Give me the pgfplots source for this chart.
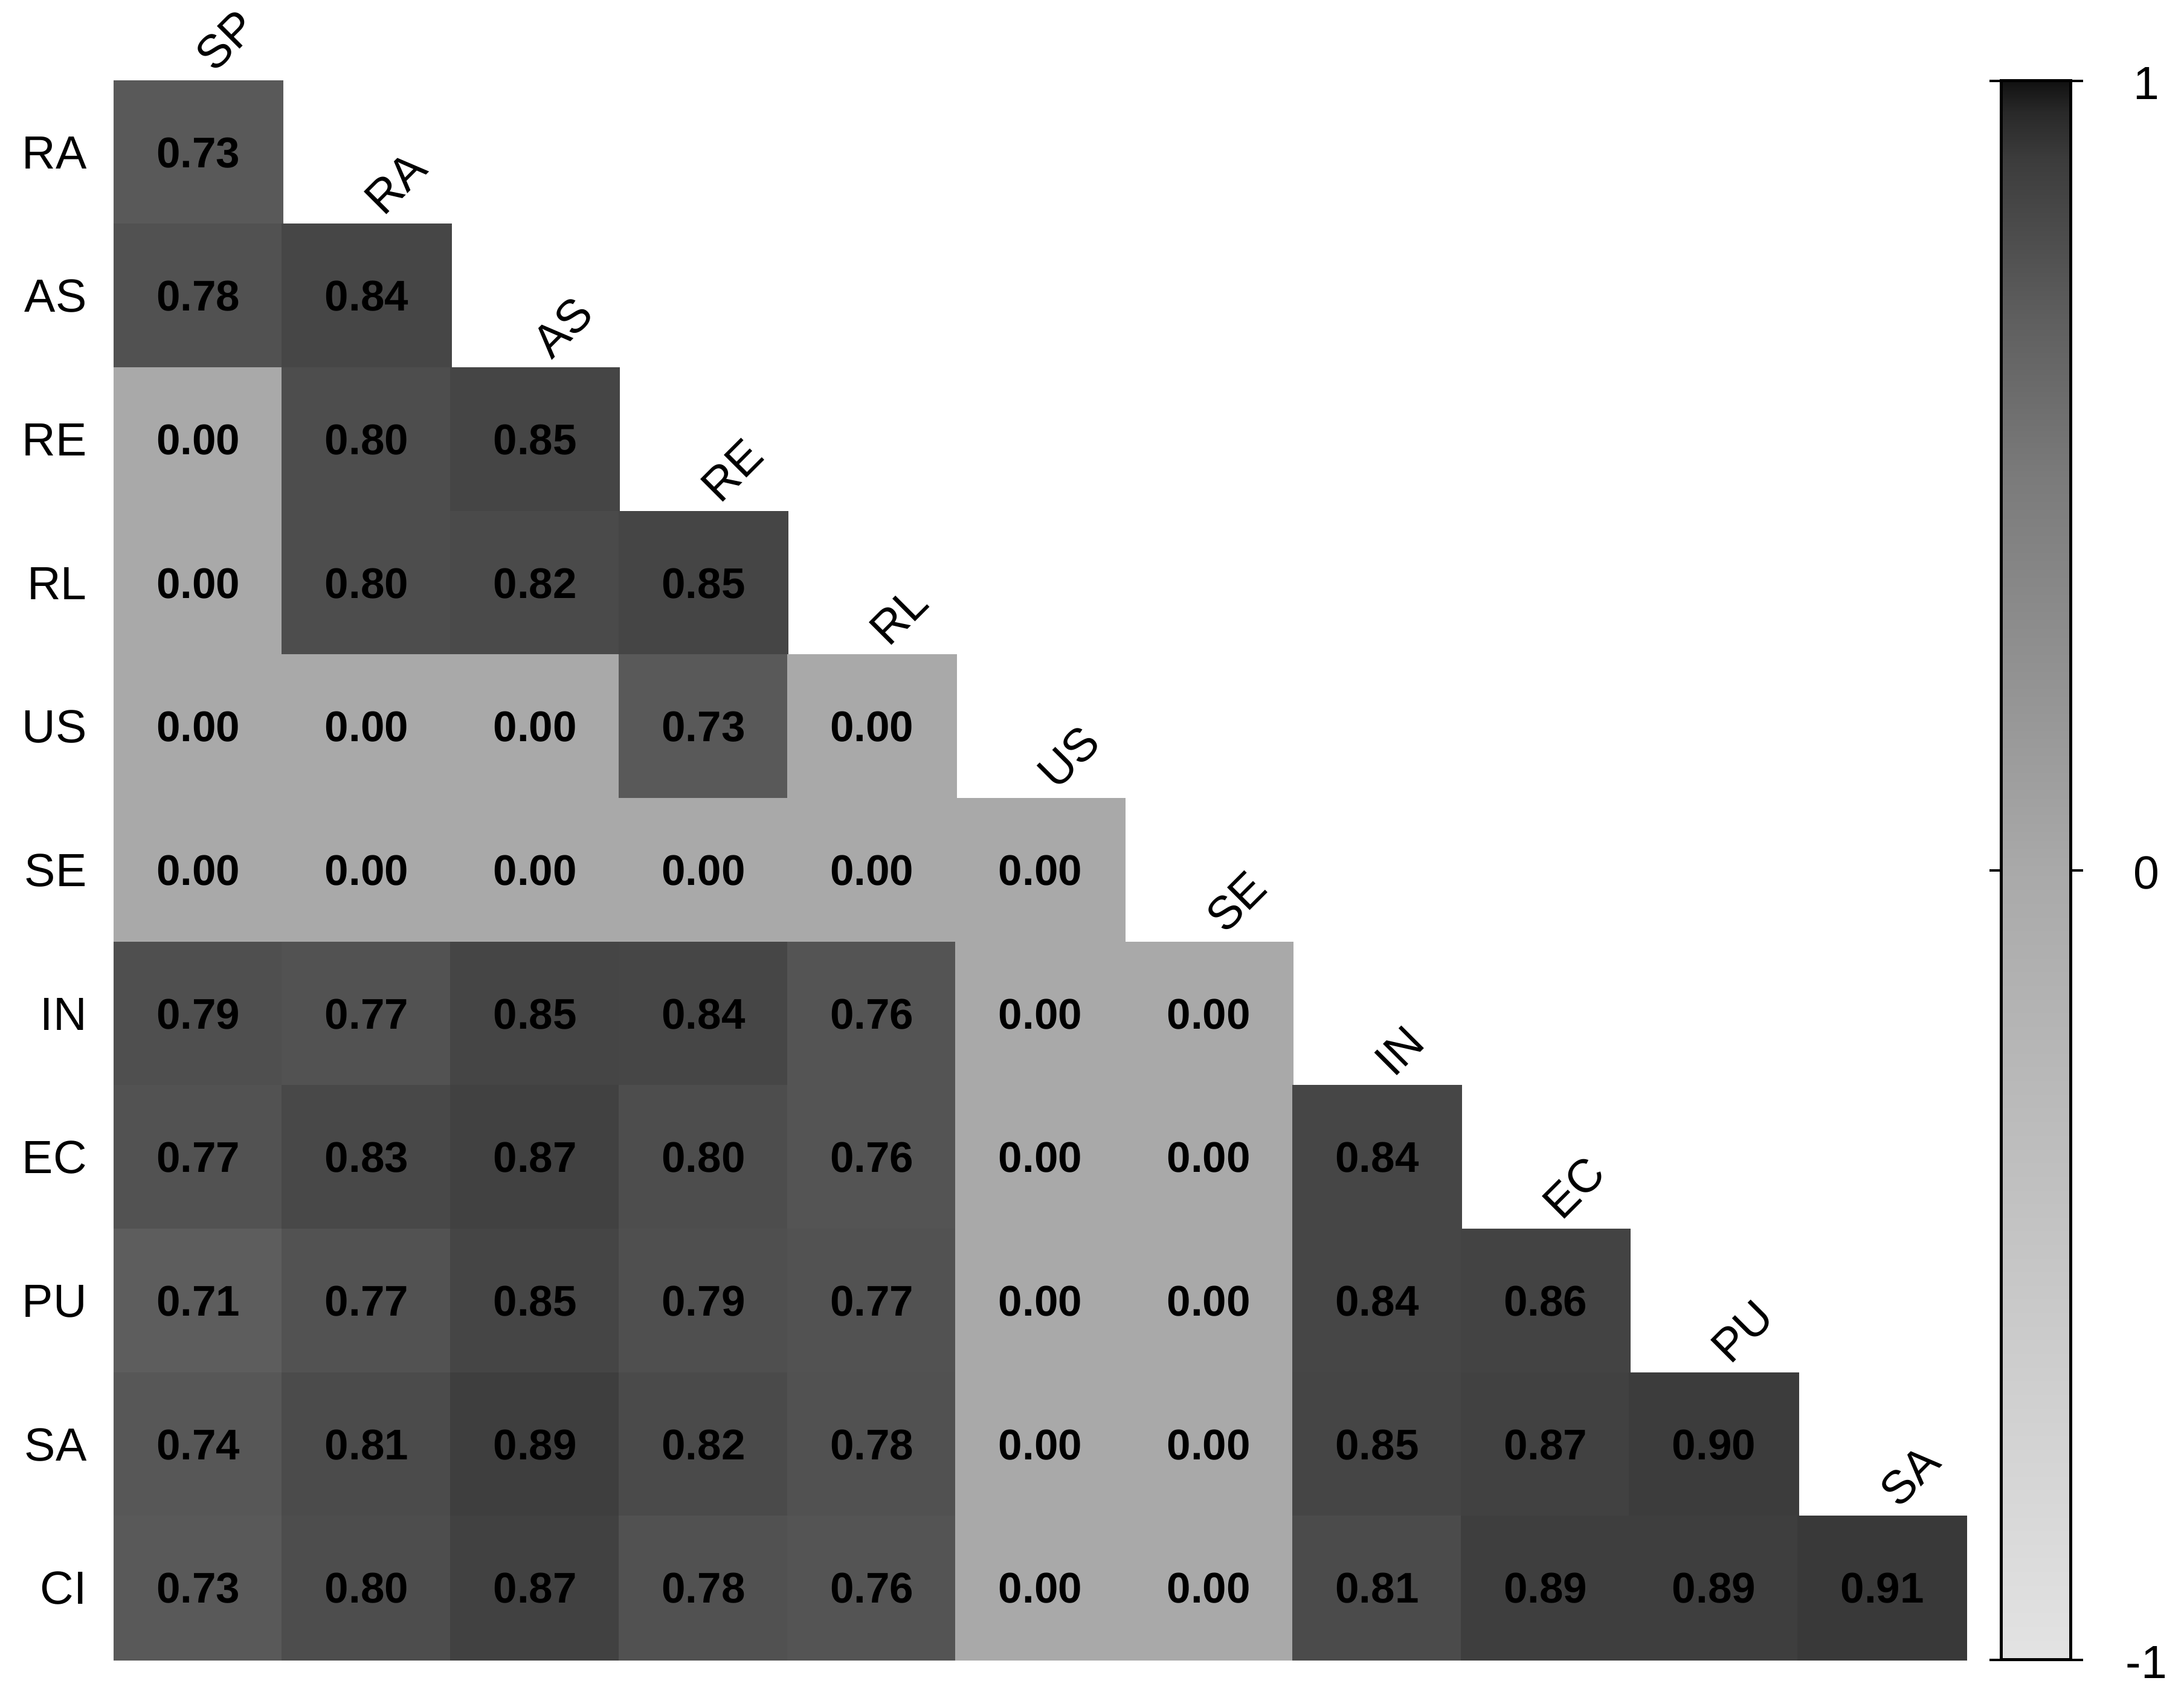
\documentclass[border=0pt]{standalone}
\usepackage{fontspec}
\setmainfont{Liberation Sans}
\usepackage{pgfplots}
\pgfplotsset{compat=1.18}
\usepackage{pgfplotstable}

\pgfplotstableread{
x y v
0 0 0.73
0 1 0.78
1 1 0.84
0 2 0.00
1 2 0.80
2 2 0.85
0 3 0.00
1 3 0.80
2 3 0.82
3 3 0.85
0 4 0.00
1 4 0.00
2 4 0.00
3 4 0.73
4 4 0.00
0 5 0.00
1 5 0.00
2 5 0.00
3 5 0.00
4 5 0.00
5 5 0.00
0 6 0.79
1 6 0.77
2 6 0.85
3 6 0.84
4 6 0.76
5 6 0.00
6 6 0.00
0 7 0.77
1 7 0.83
2 7 0.87
3 7 0.80
4 7 0.76
5 7 0.00
6 7 0.00
7 7 0.84
0 8 0.71
1 8 0.77
2 8 0.85
3 8 0.79
4 8 0.77
5 8 0.00
6 8 0.00
7 8 0.84
8 8 0.86
0 9 0.74
1 9 0.81
2 9 0.89
3 9 0.82
4 9 0.78
5 9 0.00
6 9 0.00
7 9 0.85
8 9 0.87
9 9 0.90
0 10 0.73
1 10 0.80
2 10 0.87
3 10 0.78
4 10 0.76
5 10 0.00
6 10 0.00
7 10 0.81
8 10 0.89
9 10 0.89
10 10 0.91
}\corrdata

\pgfdeclareplotmark{cell}{%
  \pgfpathrectangle{\pgfpoint{-13.936pt}{-11.882pt}}{\pgfpoint{27.873pt}{23.764pt}}%
  \pgfusepathqfillstroke}

\pgfplotsset{
  colormap={corrgray}{
    gray(0pt)=(0.89)
    gray(100pt)=(0.663)
    gray(150pt)=(0.48)
    gray(170pt)=(0.37)
    gray(190pt)=(0.235)
    gray(196pt)=(0.16)
    gray(200pt)=(0.067)
  },
}

\begin{document}
\begin{tikzpicture}[
  collabel/.style={xshift=2.8pt, yshift=0.9pt, rotate=45, anchor=south west, inner sep=0pt,
    font=\fontsize{7.7}{8}\selectfont}]
\useasboundingbox (0,0) rectangle (361.5pt,281.1pt);
\begin{axis}[
  at={(18.9pt,6.3pt)}, anchor=south west,
  scale only axis, width=306.6pt, height=261.4pt,
  xmin=-0.5, xmax=10.5, ymin=-0.5, ymax=10.5,
  y dir=reverse,
  axis line style={draw=none},
  major tick length=0pt,
  xtick=\empty,
  ytick={0,1,2,3,4,5,6,7,8,9,10},
  yticklabels={RA,AS,RE,RL,US,SE,IN,EC,PU,SA,CI},
  yticklabel style={font=\fontsize{7.7}{8}\selectfont, anchor=east, xshift=-1pt},
  clip=false,
  colormap name=corrgray,
  point meta min=-1, point meta max=1,
  colorbar right,
  colorbar style={
    at={(parent axis.north east)}, anchor=north west, xshift=-2.74pt,
    scale only axis, width=11.5pt, height=261.4pt,
    ytick={-1,0,1},
    tick align=outside,
    major tick length=2pt,
    ytick style={black, line width=0.4pt},
    axis line style={black, line width=0.5pt},
    yticklabel style={font=\fontsize{7.7}{8}\selectfont, anchor=center, xshift=10.5pt, yshift=-0.4pt},
    /pgf/number format/assume math mode=true,
  },
]
\addplot[scatter, only marks, mark=cell,
  point meta=explicit,
  scatter/use mapped color={draw=mapped color, fill=mapped color},
  mark options={line width=0.25pt},
] table[x=x, y=y, meta=v] {\corrdata};

\addplot[draw=none, mark=none,
  point meta=explicit,
  nodes near coords={\pgfmathprintnumber[fixed,fixed zerofill,precision=2,assume math mode=true]{\pgfplotspointmeta}},
  every node near coord/.append style={anchor=center, text=black,
    font=\bfseries\fontsize{7.1}{8}\selectfont},
] table[x=x, y=y, meta=v] {\corrdata};

\node[collabel] at (axis cs:0,-0.5) {SP};
\node[collabel] at (axis cs:1,0.5) {RA};
\node[collabel] at (axis cs:2,1.5) {AS};
\node[collabel] at (axis cs:3,2.5) {RE};
\node[collabel] at (axis cs:4,3.5) {RL};
\node[collabel] at (axis cs:5,4.5) {US};
\node[collabel] at (axis cs:6,5.5) {SE};
\node[collabel] at (axis cs:7,6.5) {IN};
\node[collabel] at (axis cs:8,7.5) {EC};
\node[collabel] at (axis cs:9,8.5) {PU};
\node[collabel] at (axis cs:10,9.5) {SA};
\end{axis}
\end{tikzpicture}
\end{document}
